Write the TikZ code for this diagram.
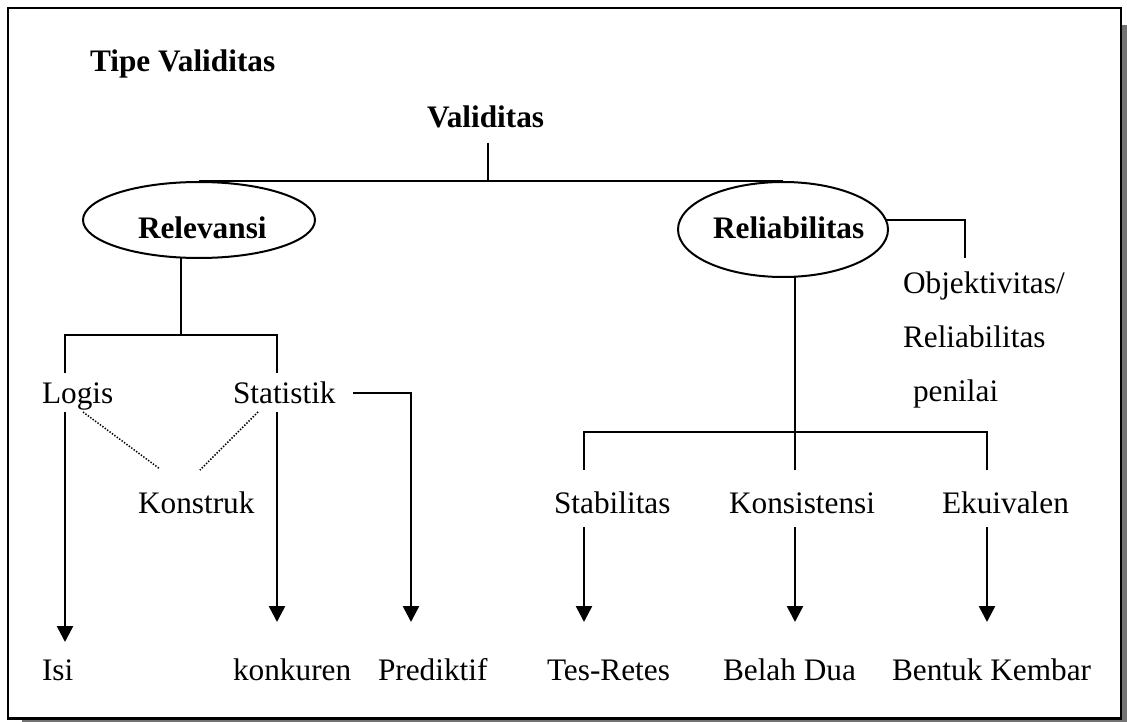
\documentclass[tikz,border=0pt]{standalone}
\usepackage{fontspec}
\setmainfont{Liberation Serif}
\usetikzlibrary{arrows.meta,shapes.geometric}
\tikzset{
  txt/.style={anchor=base west,inner sep=0pt,outer sep=0pt,font=\fontsize{31.3}{37}\selectfont},
  btxt/.style={txt,font=\fontsize{31.3}{37}\selectfont\bfseries},
  oval/.style={draw,ellipse,line width=2pt,inner sep=0pt},
  conn/.style={line width=2pt},
  arr/.style={line width=2.6pt,-{Triangle[width=16pt,length=16pt]}},
  dots/.style={line width=1.5pt,dash pattern=on 1.4pt off 1.6pt},
}
\begin{document}
\begin{tikzpicture}[x=1pt,y=-1pt]
\useasboundingbox (0,0) rectangle (1127,722);
% frame with shadow
\fill[gray!90!black] (1122,25) rectangle (1127,722);
\fill[gray!90!black] (22,719) rectangle (1127,722);
\draw[line width=2.6pt] (8,8) rectangle (1121,718.5);

% titles
\node[btxt] (title) at (90,72) {Tipe Validitas};
\node[btxt] (val) at (427,128) {Validitas};

% ellipses
\node[oval,minimum width=232pt,minimum height=76pt] (rel) at (199,220) {};
\node[btxt] (relt) at (138,238) {Relevansi};
\node[oval,minimum width=210pt,minimum height=95pt] (relia) at (783,229.5) {};
\node[btxt] (reliat) at (713,238) {Reliabilitas};

% top connections
\coordinate (vtop) at (488,143);
\coordinate (vj) at (488,182);
\draw[conn] (vtop) -- (vj);
\draw[conn] (rel.north) -- (relia.north);

% left branch
\coordinate (rtop) at (181,258);
\coordinate (rj) at (181,335);
\coordinate (lj) at (65,335);
\coordinate (sj) at (277,335);
\coordinate (la) at (65,373);
\coordinate (sa) at (277,373);
\draw[conn] (rtop) -- (rj);
\draw[conn] (la) -- (lj) -- (sj) -- (sa);

\node[txt] (logis) at (42,403) {Logis};
\node[txt] (stat) at (233,403) {Statistik};
\node[txt] (kons) at (138,513) {Konstruk};

\coordinate (lb) at (65,412);
\coordinate (lend) at (65,642);
\coordinate (sb) at (277,412);
\coordinate (send) at (277,622);
\draw[arr] (lb) -- (lend);
\draw[arr] (sb) -- (send);

\coordinate (pa) at (353,393);
\coordinate (pb) at (411,393);
\coordinate (pend) at (411,622);
\draw[arr] (pa) -- (pb) -- (pend);

\coordinate (d1a) at (83,412);
\coordinate (d1b) at (160,469);
\coordinate (d2a) at (258,412);
\coordinate (d2b) at (200,470);
\draw[dots] (d1a) -- (d1b);
\draw[dots] (d2a) -- (d2b);

% right branch
\coordinate (oa) at (886,220);
\coordinate (ob) at (965,220);
\coordinate (oc) at (965,258);
\draw[conn] (oa) -- (ob) -- (oc);
\node[txt] (obj1) at (903,293) {Objektivitas/};
\node[txt] (obj2) at (903,347) {Reliabilitas};
\node[txt] (obj3) at (913,401) {penilai};

\coordinate (ra) at (795,276.5);
\coordinate (rb) at (795,470);
\coordinate (ba) at (584,432);
\coordinate (bb) at (987,432);
\coordinate (ba2) at (584,470);
\coordinate (bb2) at (987,470);
\draw[conn] (ra) -- (rb);
\draw[conn] (ba2) -- (ba) -- (bb) -- (bb2);

\node[txt] (stab) at (554,513) {Stabilitas};
\node[txt] (konsis) at (729,513) {Konsistensi};
\node[txt] (ekui) at (942,513) {Ekuivalen};

\coordinate (a1) at (584,527);
\coordinate (a1e) at (584,622);
\coordinate (a2) at (795,527);
\coordinate (a2e) at (795,622);
\coordinate (a3) at (987,527);
\coordinate (a3e) at (987,622);
\draw[arr] (a1) -- (a1e);
\draw[arr] (a2) -- (a2e);
\draw[arr] (a3) -- (a3e);

% bottom labels
\node[txt] (isi) at (42,680) {Isi};
\node[txt] (konk) at (233,680) {konkuren};
\node[txt] (pred) at (378,680) {Prediktif};
\node[txt] (tes) at (547,680) {Tes-Retes};
\node[txt] (belah) at (723,680) {Belah Dua};
\node[txt] (bentuk) at (892,680) {Bentuk Kembar};
\end{tikzpicture}
\end{document}
